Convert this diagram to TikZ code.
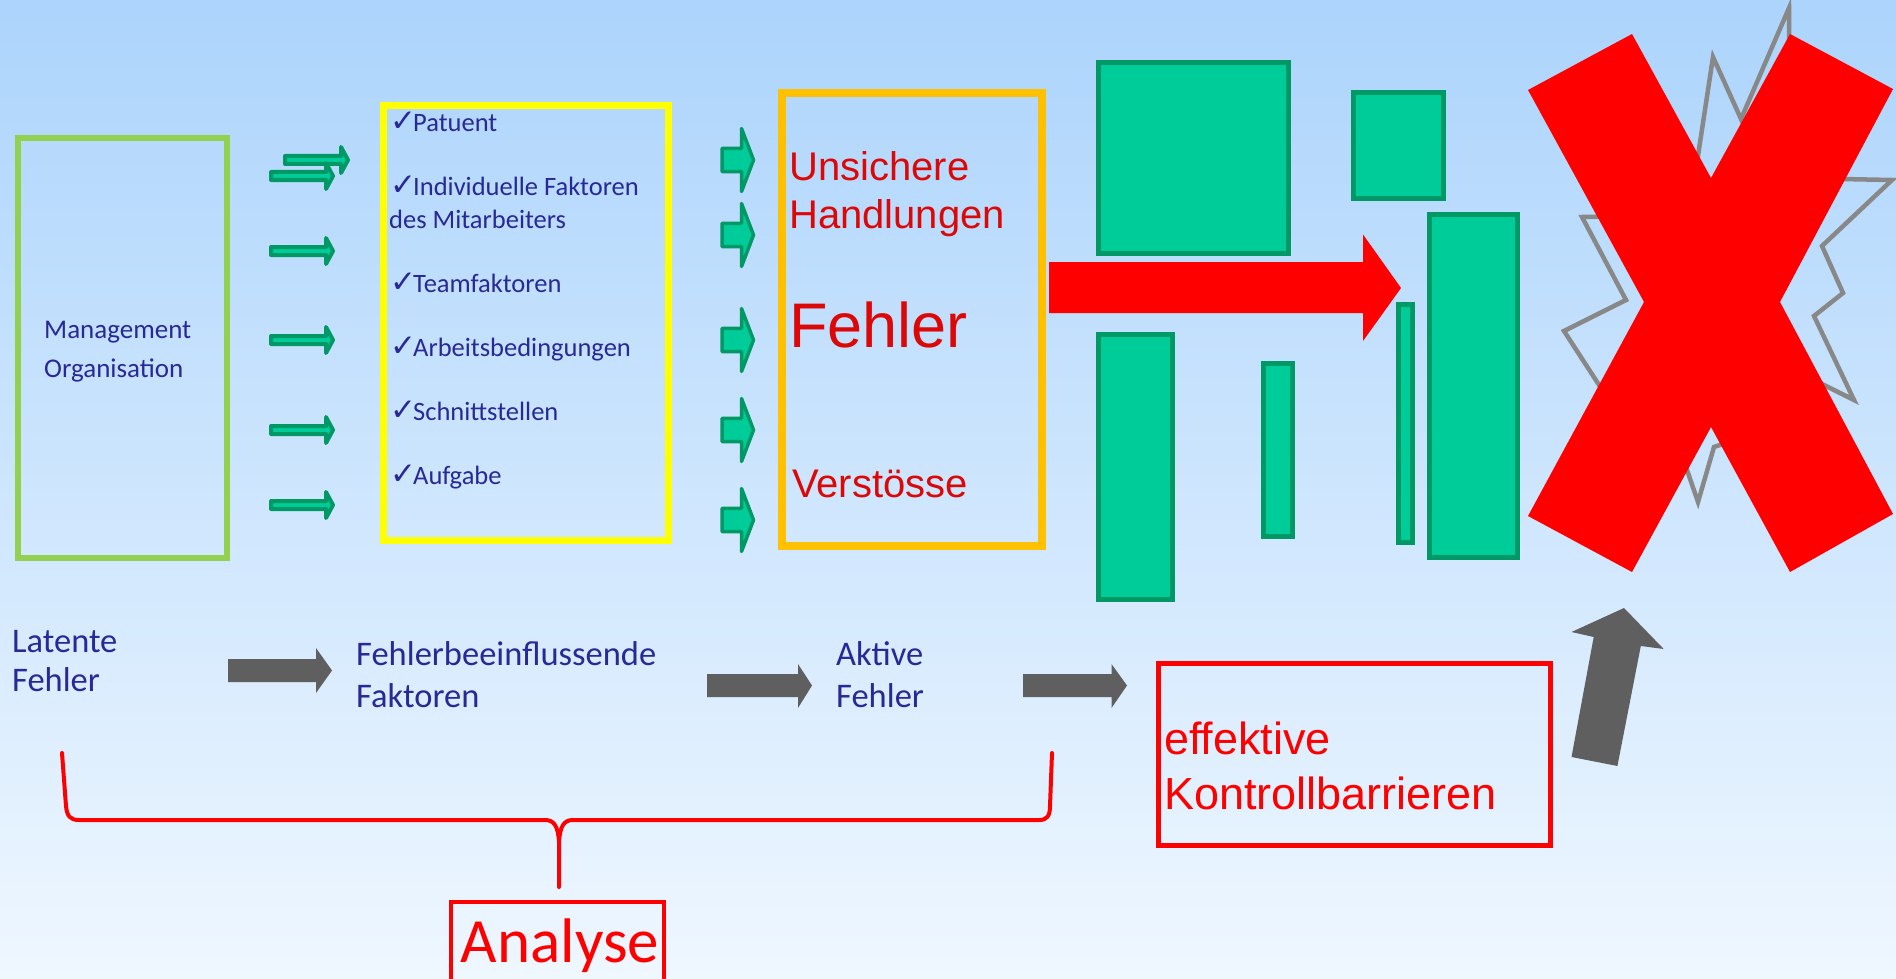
\documentclass[tikz,border=0pt]{standalone}
\usepackage{fontspec}
\setmainfont{Carlito}
\newfontfamily\arialfont{Liberation Sans}
\newfontfamily\symfont{DejaVu Sans}
\usepackage{tikz}
\usetikzlibrary{calc}
\definecolor{bgTop}{RGB}{172,212,252}
\definecolor{bgBot}{RGB}{239,247,255}
\definecolor{inkblue}{RGB}{40,40,150}
\definecolor{errRed}{RGB}{220,8,8}
\definecolor{barFill}{RGB}{0,204,153}
\definecolor{barLine}{RGB}{0,153,102}
\definecolor{boxGreen}{RGB}{146,208,80}
\definecolor{boxYellow}{RGB}{255,255,0}
\definecolor{boxOrange}{RGB}{255,192,0}
\definecolor{arrowGray}{RGB}{95,95,95}
\definecolor{starGray}{RGB}{136,136,136}
\newcommand{\chk}{\raisebox{0pt}{\symfont\fontsize{31}{31}\selectfont ✓}\hspace{-3pt}}

\begin{document}
\begin{tikzpicture}[x=1pt,y=-1pt,
  bluetxt/.style={text=inkblue,anchor=base west,inner sep=0pt,font=\fontsize{26.5}{30}\selectfont},
  lowtxt/.style={bluetxt,font=\fontsize{34.5}{40}\selectfont},
  errtxt/.style={text=errRed,anchor=base west,inner sep=0pt,font=\arialfont\fontsize{40}{48}\selectfont},
  barrier/.style={fill=barFill,draw=barLine,line width=5pt},
  smallarr/.style={fill=barFill,draw=barLine,line width=4pt,line join=round},
  midarr/.style={fill=barFill,draw=barLine,line width=3.5pt,line join=round},
  grayarr/.style={fill=arrowGray},
  brace/.style={draw=red,line width=4pt,line join=round,line cap=round}]
  \useasboundingbox (0,0) rectangle (1896,979);
  \shade[top color=bgTop,bottom color=bgBot] (0,0) rectangle (1896,979);

  % frames
  \draw[boxGreen,line width=6pt] (18,138) rectangle (227,558);
  \draw[boxYellow,line width=7pt] (383,105.5) rectangle (668,540.5);
  \draw[boxOrange,line width=8pt] (782,93) rectangle (1042,546);

  % management
  \node[bluetxt,font=\fontsize{27}{30}\selectfont] (mgmt) at (44,338) {Management};
  \node[bluetxt,font=\fontsize{27}{30}\selectfont] (org) at (44,377) {Organisation};

  % small arrows, first column
  \filldraw[smallarr] (285,156) -- (341,156) -- (341,147) -- (348,160) -- (341,173) -- (341,164) -- (285,164) -- cycle;
  \foreach \y in {176,251,340,430,505}
    \filldraw[smallarr] (271,\y-4) -- (326,\y-4) -- (326,\y-13) -- (333,\y) -- (326,\y+13) -- (326,\y+4) -- (271,\y+4) -- cycle;

  % factor list
  \foreach \y/\txt/\nm in {132/Patuent/pat,196/Individuelle Faktoren/ind,292/Teamfaktoren/team,356/Arbeitsbedingungen/arb,420/Schnittstellen/schn,484/Aufgabe/aufg}
    \node[bluetxt] (\nm) at (390,\y) {\chk\txt};
  \node[bluetxt] (ind2) at (389,228) {des Mitarbeiters};

  % arrows, second column
  \foreach \y in {160,235,340,430,520}
    \filldraw[midarr] (722,\y-11.7) -- (741.5,\y-11.7) -- (741.5,\y-31.5) -- (753.5,\y) -- (741.5,\y+31.5) -- (741.5,\y+11.7) -- (722,\y+11.7) -- cycle;

  % active errors
  \node[errtxt] (uns) at (789,180) {Unsichere};
  \node[errtxt] (handl) at (789,228) {Handlungen};
  \node[errtxt,font=\arialfont\fontsize{63}{70}\selectfont] (fehler) at (789,347) {Fehler};
  \node[errtxt] (verst) at (792,497) {Verstösse};

  % barriers
  \foreach \xa/\ya/\xb/\yb in {1098/63/1288/253,1353/93/1443/198,1098/334/1172/599,1263/363/1292/536,1398/304/1412/542,1429/214/1517/557}
    \filldraw[barrier] (\xa,\ya) rectangle (\xb,\yb);
  \fill[red] (1049,262) -- (1363,262) -- (1363,234.5) -- (1401,288) -- (1363,341) -- (1363,313) -- (1049,313) -- cycle;

  % burst and cross
  \draw[starGray,line width=4.5pt] (1789,8) -- (1741,119) -- (1713,57) -- (1689,215) -- (1582,217) -- (1626,300)
    -- (1564,331) -- (1612,405) -- (1687,470) -- (1698,502) -- (1714,447) -- (1765,430) -- (1822,384)
    -- (1854,400) -- (1814,316) -- (1843,293) -- (1822,246) -- (1892,180) -- (1790,178) -- cycle;
  \fill[red] (1528,90) -- (1632,34) -- (1711,178) -- (1790,34) -- (1893,89) -- (1780,302) -- (1893,514)
    -- (1790,572) -- (1711,427) -- (1632,572) -- (1528,516) -- (1644,302) -- cycle;

  % bottom row
  \node[lowtxt] (lat1) at (12,652) {Latente};
  \node[lowtxt] (lat2) at (12,691) {Fehler};
  \node[lowtxt] (fb1) at (356,665) {Fehlerbeeinflussende};
  \node[lowtxt] (fb2) at (356,707) {Faktoren};
  \node[lowtxt] (akt1) at (836,665) {Aktive};
  \node[lowtxt] (akt2) at (836,707) {Fehler};
  \fill[grayarr] (228,659) -- (316,659) -- (316,648) -- (332,670.5) -- (316,693) -- (316,682) -- (228,682) -- cycle;
  \foreach \xa/\xb/\xc in {707/798/812,1023/1111.5/1127}
    \fill[grayarr] (\xa,674) -- (\xb,674) -- (\xb,664) -- (\xc,685.5) -- (\xb,708) -- (\xb,697) -- (\xa,697) -- cycle;
  \fill[grayarr] (1571.5,757) -- (1593.7,637) -- (1571.5,632) -- (1624,608) -- (1663.7,649) -- (1640.8,646) -- (1617.4,766) -- cycle;

  % control barriers
  \draw[red,line width=5pt] (1158,663) rectangle (1550,845);
  \node[errtxt,text=red,font=\arialfont\fontsize{45}{50}\selectfont] (eff) at (1164,754) {effektive};
  \node[errtxt,text=red,font=\arialfont\fontsize{45}{50}\selectfont] (kontr) at (1164,809) {Kontrollbarrieren};

  % analysis brace
  \coordinate (brL) at (62,753);
  \coordinate (brTip) at (559,887);
  \coordinate (brR) at (1052,753);
  \draw[brace] (brL) -- (66,806) .. controls (67,816) and (70,820) .. (79,820) -- (545,820)
    .. controls (554,820) and (558,826) .. (559,842) -- (brTip) -- (559,842)
    .. controls (560,826) and (564,820) .. (573,820) -- (1039,820)
    .. controls (1047,820) and (1050,816) .. (1050,806) -- (brR);
  \draw[red,line width=3.5pt] (451,902) rectangle (664,995);
  \node[text=red,anchor=base,inner sep=0pt,font=\fontsize{63}{70}\selectfont] (analyse) at (560,962) {Analyse};
\end{tikzpicture}
\end{document}
